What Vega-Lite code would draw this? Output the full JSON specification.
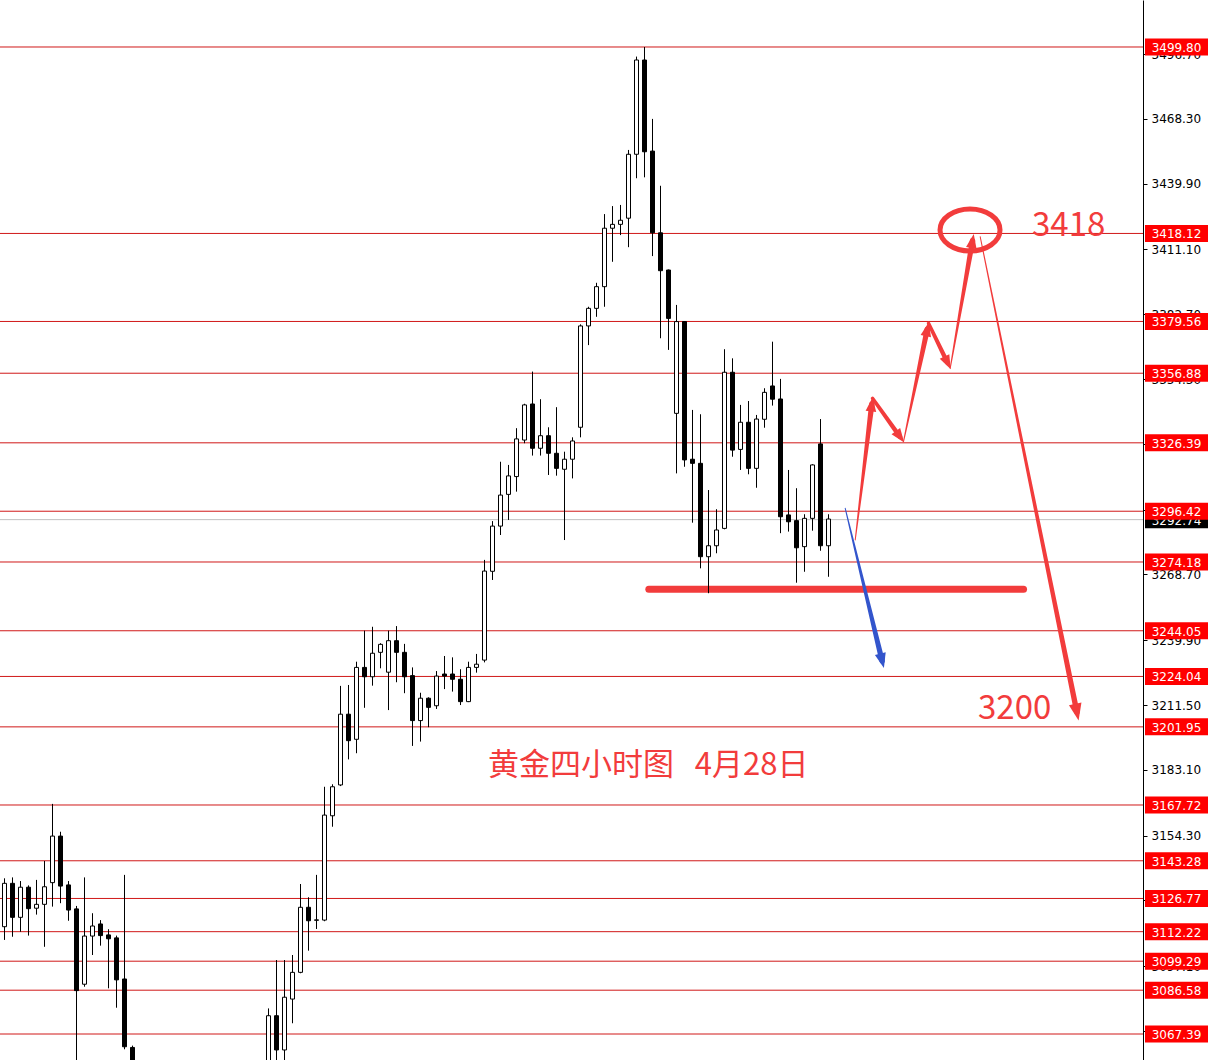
{
  "$schema": "https://vega.github.io/schema/vega-lite/v6.json",
  "width": 1143,
  "height": 1060,
  "autosize": {"type": "none"},
  "padding": {"left": 0, "top": 0, "right": 67, "bottom": 0},
  "background": "white",
  "config": {"view": {"stroke": null}, "scale": {"continuousPadding": 0}},
  "datasets": {
    "levels": [
      {"p": 3499.80}, {"p": 3418.12}, {"p": 3379.56}, {"p": 3356.88}, {"p": 3326.39},
      {"p": 3296.42}, {"p": 3274.18}, {"p": 3244.05}, {"p": 3224.04}, {"p": 3201.95},
      {"p": 3167.72}, {"p": 3143.28}, {"p": 3126.77}, {"p": 3112.22}, {"p": 3099.29},
      {"p": 3086.58}, {"p": 3067.39}
    ],
    "current": [{"p": 3292.74}],
    "candles": [
      {"i": 0, "o": 3114.4, "h": 3135.6, "l": 3108.6, "c": 3133.4},
      {"i": 1, "o": 3133.4, "h": 3136.0, "l": 3110.0, "c": 3118.5},
      {"i": 2, "o": 3118.5, "h": 3134.4, "l": 3112.2, "c": 3131.7},
      {"i": 3, "o": 3131.7, "h": 3132.5, "l": 3110.5, "c": 3122.3},
      {"i": 4, "o": 3122.5, "h": 3134.9, "l": 3119.7, "c": 3124.2},
      {"i": 5, "o": 3124.2, "h": 3143.2, "l": 3105.6, "c": 3131.9},
      {"i": 6, "o": 3133.7, "h": 3168.2, "l": 3123.2, "c": 3154.1},
      {"i": 7, "o": 3154.1, "h": 3156.0, "l": 3124.7, "c": 3132.2},
      {"i": 8, "o": 3132.7, "h": 3134.4, "l": 3117.0, "c": 3121.7},
      {"i": 9, "o": 3122.2, "h": 3123.5, "l": 3045.0, "c": 3086.4},
      {"i": 10, "o": 3089.2, "h": 3136.0, "l": 3088.1, "c": 3110.3},
      {"i": 11, "o": 3110.3, "h": 3120.3, "l": 3102.0, "c": 3114.7},
      {"i": 12, "o": 3115.6, "h": 3117.3, "l": 3106.1, "c": 3110.5},
      {"i": 13, "o": 3110.8, "h": 3113.3, "l": 3087.4, "c": 3109.1},
      {"i": 14, "o": 3109.5, "h": 3110.5, "l": 3078.9, "c": 3091.1},
      {"i": 15, "o": 3091.5, "h": 3137.1, "l": 3060.7, "c": 3061.8},
      {"i": 16, "o": 3061.5, "h": 3062.3, "l": 3030.0, "c": 3040.0},
      {"i": 33, "o": 3045.0, "h": 3078.6, "l": 3040.0, "c": 3075.4},
      {"i": 34, "o": 3075.4, "h": 3099.8, "l": 3048.0, "c": 3060.4},
      {"i": 35, "o": 3060.4, "h": 3099.8, "l": 3052.0, "c": 3083.5},
      {"i": 36, "o": 3082.7, "h": 3102.0, "l": 3072.1, "c": 3094.4},
      {"i": 37, "o": 3094.4, "h": 3133.1, "l": 3094.0, "c": 3122.9},
      {"i": 38, "o": 3122.9, "h": 3127.3, "l": 3103.9, "c": 3117.0},
      {"i": 39, "o": 3117.2, "h": 3137.1, "l": 3113.4, "c": 3117.4},
      {"i": 40, "o": 3117.3, "h": 3175.7, "l": 3116.8, "c": 3163.3},
      {"i": 41, "o": 3163.0, "h": 3176.8, "l": 3158.2, "c": 3175.7},
      {"i": 42, "o": 3176.5, "h": 3219.9, "l": 3176.0, "c": 3207.5},
      {"i": 43, "o": 3207.5, "h": 3220.3, "l": 3187.7, "c": 3195.9},
      {"i": 44, "o": 3196.5, "h": 3230.5, "l": 3190.4, "c": 3228.0},
      {"i": 45, "o": 3228.0, "h": 3244.1, "l": 3210.3, "c": 3223.9},
      {"i": 46, "o": 3223.9, "h": 3245.8, "l": 3220.0, "c": 3234.2},
      {"i": 47, "o": 3234.6, "h": 3238.6, "l": 3227.6, "c": 3238.1},
      {"i": 48, "o": 3225.9, "h": 3244.1, "l": 3209.3, "c": 3239.7},
      {"i": 49, "o": 3239.7, "h": 3246.1, "l": 3221.5, "c": 3234.6},
      {"i": 50, "o": 3234.6, "h": 3238.3, "l": 3216.7, "c": 3223.9},
      {"i": 51, "o": 3224.4, "h": 3228.0, "l": 3193.6, "c": 3204.7},
      {"i": 52, "o": 3204.7, "h": 3216.9, "l": 3195.5, "c": 3214.5},
      {"i": 53, "o": 3214.5, "h": 3214.9, "l": 3201.8, "c": 3210.5},
      {"i": 54, "o": 3211.2, "h": 3226.4, "l": 3209.8, "c": 3224.2},
      {"i": 55, "o": 3225.1, "h": 3233.0, "l": 3218.5, "c": 3224.2},
      {"i": 56, "o": 3225.1, "h": 3232.4, "l": 3217.4, "c": 3222.8},
      {"i": 57, "o": 3222.8, "h": 3227.2, "l": 3211.5, "c": 3213.0},
      {"i": 58, "o": 3213.0, "h": 3230.5, "l": 3212.8, "c": 3228.0},
      {"i": 59, "o": 3228.0, "h": 3233.9, "l": 3225.7, "c": 3229.4},
      {"i": 60, "o": 3231.2, "h": 3275.1, "l": 3230.2, "c": 3270.2},
      {"i": 61, "o": 3270.1, "h": 3292.1, "l": 3266.3, "c": 3289.9},
      {"i": 62, "o": 3289.9, "h": 3318.1, "l": 3286.0, "c": 3303.5},
      {"i": 63, "o": 3303.8, "h": 3316.7, "l": 3292.6, "c": 3311.9},
      {"i": 64, "o": 3311.6, "h": 3332.8, "l": 3305.0, "c": 3328.1},
      {"i": 65, "o": 3327.6, "h": 3343.5, "l": 3326.2, "c": 3343.0},
      {"i": 66, "o": 3343.4, "h": 3357.6, "l": 3320.8, "c": 3324.0},
      {"i": 67, "o": 3324.0, "h": 3345.5, "l": 3320.8, "c": 3329.5},
      {"i": 68, "o": 3329.5, "h": 3333.2, "l": 3312.3, "c": 3321.8},
      {"i": 69, "o": 3321.8, "h": 3342.0, "l": 3312.0, "c": 3315.2},
      {"i": 70, "o": 3314.8, "h": 3322.5, "l": 3283.8, "c": 3319.2},
      {"i": 71, "o": 3319.2, "h": 3328.8, "l": 3310.8, "c": 3327.2},
      {"i": 72, "o": 3333.2, "h": 3378.3, "l": 3328.8, "c": 3377.6},
      {"i": 73, "o": 3377.6, "h": 3386.0, "l": 3369.2, "c": 3385.3},
      {"i": 74, "o": 3385.3, "h": 3396.5, "l": 3381.6, "c": 3394.8},
      {"i": 75, "o": 3394.8, "h": 3426.6, "l": 3386.0, "c": 3420.4},
      {"i": 76, "o": 3420.4, "h": 3430.1, "l": 3405.7, "c": 3422.1},
      {"i": 77, "o": 3422.1, "h": 3430.6, "l": 3417.4, "c": 3423.9},
      {"i": 78, "o": 3424.8, "h": 3454.7, "l": 3412.1, "c": 3452.8},
      {"i": 79, "o": 3452.8, "h": 3495.6, "l": 3442.3, "c": 3494.1},
      {"i": 80, "o": 3494.1, "h": 3499.8, "l": 3442.7, "c": 3453.9},
      {"i": 81, "o": 3454.2, "h": 3468.3, "l": 3408.2, "c": 3418.4},
      {"i": 82, "o": 3418.4, "h": 3439.0, "l": 3372.2, "c": 3401.8},
      {"i": 83, "o": 3402.1, "h": 3402.3, "l": 3367.1, "c": 3380.9},
      {"i": 84, "o": 3339.3, "h": 3386.8, "l": 3313.0, "c": 3379.5},
      {"i": 85, "o": 3379.5, "h": 3379.7, "l": 3315.9, "c": 3318.9},
      {"i": 86, "o": 3319.2, "h": 3340.8, "l": 3291.4, "c": 3317.4},
      {"i": 87, "o": 3317.4, "h": 3338.9, "l": 3271.4, "c": 3276.5},
      {"i": 88, "o": 3276.5, "h": 3305.7, "l": 3260.5, "c": 3281.3},
      {"i": 89, "o": 3281.3, "h": 3297.3, "l": 3278.0, "c": 3288.2},
      {"i": 90, "o": 3288.9, "h": 3367.4, "l": 3288.5, "c": 3357.3},
      {"i": 91, "o": 3357.3, "h": 3363.4, "l": 3320.3, "c": 3323.2},
      {"i": 92, "o": 3323.5, "h": 3343.0, "l": 3314.5, "c": 3335.4},
      {"i": 93, "o": 3335.4, "h": 3344.7, "l": 3312.6, "c": 3315.2},
      {"i": 94, "o": 3315.2, "h": 3338.6, "l": 3306.7, "c": 3336.8},
      {"i": 95, "o": 3336.7, "h": 3350.3, "l": 3333.0, "c": 3348.5},
      {"i": 96, "o": 3351.3, "h": 3370.7, "l": 3342.7, "c": 3345.5},
      {"i": 97, "o": 3345.6, "h": 3354.4, "l": 3286.8, "c": 3294.0},
      {"i": 98, "o": 3294.8, "h": 3314.5, "l": 3287.5, "c": 3291.8},
      {"i": 99, "o": 3292.3, "h": 3306.5, "l": 3265.1, "c": 3280.4},
      {"i": 100, "o": 3280.9, "h": 3295.1, "l": 3269.9, "c": 3293.3},
      {"i": 101, "o": 3293.3, "h": 3317.0, "l": 3287.9, "c": 3316.7},
      {"i": 102, "o": 3325.9, "h": 3336.8, "l": 3279.1, "c": 3281.3},
      {"i": 103, "o": 3281.3, "h": 3295.1, "l": 3267.7, "c": 3293.0}
    ],
    "support": [{"i": 80.54, "p": 3262.2}, {"i": 127.38, "p": 3262.2}],
    "redPath": [
      {"seg": "A", "t": 0, "i": 106.34, "p": 3283.83},
      {"seg": "A", "t": 1, "i": 108.41, "p": 3343.26},
      {"seg": "B", "t": 0.55, "i": 108.5, "p": 3345.89},
      {"seg": "B", "t": 0.8, "i": 111.94, "p": 3329.02},
      {"seg": "C", "t": 0, "i": 112.375, "p": 3326.88},
      {"seg": "C", "t": 1, "i": 115.35, "p": 3376.17},
      {"seg": "D", "t": 0.55, "i": 115.5, "p": 3378.75},
      {"seg": "D", "t": 0.8, "i": 117.89, "p": 3361.40},
      {"seg": "E", "t": 0, "i": 118.21, "p": 3359.04},
      {"seg": "E", "t": 1, "i": 121.0, "p": 3414.85},
      {"seg": "F", "t": 0, "i": 121.96, "p": 3416.69},
      {"seg": "F", "t": 1, "i": 134.05, "p": 3208.37}
    ],
    "bluePath": [
      {"seg": "G", "t": 0, "i": 105.09, "p": 3297.7},
      {"seg": "G", "t": 1, "i": 109.7, "p": 3230.85}
    ],
    "redHeads": [
      {"i": 108.41, "p": 3343.26, "dir": 7},
      {"i": 111.94, "p": 3329.02, "dir": 144},
      {"i": 115.35, "p": 3376.17, "dir": 12},
      {"i": 117.89, "p": 3361.40, "dir": 154},
      {"i": 121.0, "p": 3414.85, "dir": 10}
    ],
    "bigHead": [{"i": 134.05, "p": 3208.37, "dir": 168.5}],
    "blueHeads": [{"i": 109.7, "p": 3230.85, "dir": 166}],
    "ring": [{"i": 120.69, "p": 3419.63}],
    "title": [{"i": 60.44, "p": 3184.8, "label": "黄金四小时图\u00a0\u00a0\u00a04月28日"}],
    "targets": [
      {"i": 128.44, "p": 3421.38, "label": "3418"},
      {"i": 121.69, "p": 3209.77, "label": "3200"}
    ]
  },
  "layer": [
    {
      "data": {"name": "current"},
      "mark": {"type": "rule", "color": "#c0c0c0", "strokeWidth": 1},
      "encoding": {
        "y": {"field": "p", "type": "quantitative",
          "scale": {"domain": [3056.0, 3520.39], "nice": false, "zero": false, "padding": 0},
          "axis": {"orient": "right", "title": null, "grid": false, "values": [3496.70, 3468.30, 3439.90, 3411.10, 3382.70, 3354.30, 3325.90, 3297.10, 3268.70, 3239.90, 3211.50, 3183.10, 3154.30, 3125.90, 3097.10, 3068.70], "format": ".2f", "labelFont": "DejaVu Sans", "labelFontSize": 12, "labelColor": "#000000", "tickColor": "#000000", "domainColor": "#000000", "tickSize": 4, "labelPadding": 4, "labelOverlap": false, "labelBound": false, "domainWidth": 1, "tickWidth": 1}
        }
      }
    },
    {
      "data": {"name": "levels"},
      "mark": {"type": "rule", "color": "#d01818", "strokeWidth": 1},
      "encoding": {
        "y": {"field": "p", "type": "quantitative",
          "scale": {"domain": [3056.0, 3520.39], "nice": false, "zero": false, "padding": 0},
          "axis": {"orient": "right", "title": null, "grid": false, "values": [3496.70, 3468.30, 3439.90, 3411.10, 3382.70, 3354.30, 3325.90, 3297.10, 3268.70, 3239.90, 3211.50, 3183.10, 3154.30, 3125.90, 3097.10, 3068.70], "format": ".2f", "labelFont": "DejaVu Sans", "labelFontSize": 12, "labelColor": "#000000", "tickColor": "#000000", "domainColor": "#000000", "tickSize": 4, "labelPadding": 4, "labelOverlap": false, "labelBound": false, "domainWidth": 1, "tickWidth": 1}
        }
      }
    },
    {
      "data": {"name": "support"},
      "mark": {"type": "line", "color": "#f23c3c", "strokeWidth": 7, "strokeCap": "round"},
      "encoding": {
        "x": {"field": "i", "type": "quantitative", "scale": {"domain": [-0.5625, 142.3125], "nice": false, "zero": false, "padding": 0}, "axis": null},
        "y": {"field": "p", "type": "quantitative", "scale": {"domain": [3056.0, 3520.39], "nice": false, "zero": false, "padding": 0},
          "axis": {"orient": "right", "title": null, "grid": false, "values": [3496.70, 3468.30, 3439.90, 3411.10, 3382.70, 3354.30, 3325.90, 3297.10, 3268.70, 3239.90, 3211.50, 3183.10, 3154.30, 3125.90, 3097.10, 3068.70], "format": ".2f", "labelFont": "DejaVu Sans", "labelFontSize": 12, "labelColor": "#000000", "tickColor": "#000000", "domainColor": "#000000", "tickSize": 4, "labelPadding": 4, "labelOverlap": false, "labelBound": false, "domainWidth": 1, "tickWidth": 1}}
      }
    },
    {
      "data": {"name": "candles"},
      "mark": {"type": "rule", "color": "#000000", "strokeWidth": 1, "clip": true},
      "encoding": {
        "x": {"field": "i", "type": "quantitative", "scale": {"domain": [-0.5625, 142.3125], "nice": false, "zero": false, "padding": 0}, "axis": null},
        "y": {"field": "l", "type": "quantitative", "scale": {"domain": [3056.0, 3520.39], "nice": false, "zero": false, "padding": 0},
          "axis": {"orient": "right", "title": null, "grid": false, "values": [3496.70, 3468.30, 3439.90, 3411.10, 3382.70, 3354.30, 3325.90, 3297.10, 3268.70, 3239.90, 3211.50, 3183.10, 3154.30, 3125.90, 3097.10, 3068.70], "format": ".2f", "labelFont": "DejaVu Sans", "labelFontSize": 12, "labelColor": "#000000", "tickColor": "#000000", "domainColor": "#000000", "tickSize": 4, "labelPadding": 4, "labelOverlap": false, "labelBound": false, "domainWidth": 1, "tickWidth": 1}},
        "y2": {"field": "h"}
      }
    },
    {
      "data": {"name": "candles"},
      "mark": {"type": "bar", "width": 4, "stroke": "#000000", "strokeWidth": 1, "clip": true},
      "encoding": {
        "x": {"field": "i", "type": "quantitative", "scale": {"domain": [-0.5625, 142.3125], "nice": false, "zero": false, "padding": 0}, "axis": null},
        "y": {"field": "o", "type": "quantitative", "scale": {"domain": [3056.0, 3520.39], "nice": false, "zero": false, "padding": 0},
          "axis": {"orient": "right", "title": null, "grid": false, "values": [3496.70, 3468.30, 3439.90, 3411.10, 3382.70, 3354.30, 3325.90, 3297.10, 3268.70, 3239.90, 3211.50, 3183.10, 3154.30, 3125.90, 3097.10, 3068.70], "format": ".2f", "labelFont": "DejaVu Sans", "labelFontSize": 12, "labelColor": "#000000", "tickColor": "#000000", "domainColor": "#000000", "tickSize": 4, "labelPadding": 4, "labelOverlap": false, "labelBound": false, "domainWidth": 1, "tickWidth": 1}},
        "y2": {"field": "c"},
        "fill": {"condition": {"test": "datum.c >= datum.o", "value": "#ffffff"}, "value": "#000000"}
      }
    },
    {
      "data": {"name": "bluePath"},
      "mark": {"type": "trail", "color": "#3355cc"},
      "encoding": {
        "x": {"field": "i", "type": "quantitative", "scale": {"domain": [-0.5625, 142.3125], "nice": false, "zero": false, "padding": 0}, "axis": null},
        "y": {"field": "p", "type": "quantitative", "scale": {"domain": [3056.0, 3520.39], "nice": false, "zero": false, "padding": 0},
          "axis": {"orient": "right", "title": null, "grid": false, "values": [3496.70, 3468.30, 3439.90, 3411.10, 3382.70, 3354.30, 3325.90, 3297.10, 3268.70, 3239.90, 3211.50, 3183.10, 3154.30, 3125.90, 3097.10, 3068.70], "format": ".2f", "labelFont": "DejaVu Sans", "labelFontSize": 12, "labelColor": "#000000", "tickColor": "#000000", "domainColor": "#000000", "tickSize": 4, "labelPadding": 4, "labelOverlap": false, "labelBound": false, "domainWidth": 1, "tickWidth": 1}},
        "detail": {"field": "seg"},
        "order": {"field": "t"},
        "size": {"field": "t", "type": "quantitative", "scale": {"domain": [0, 1], "range": [1, 5.5]}, "legend": null}
      }
    },
    {
      "data": {"name": "redPath"},
      "mark": {"type": "trail", "color": "#f23c3c"},
      "encoding": {
        "x": {"field": "i", "type": "quantitative", "scale": {"domain": [-0.5625, 142.3125], "nice": false, "zero": false, "padding": 0}, "axis": null},
        "y": {"field": "p", "type": "quantitative", "scale": {"domain": [3056.0, 3520.39], "nice": false, "zero": false, "padding": 0},
          "axis": {"orient": "right", "title": null, "grid": false, "values": [3496.70, 3468.30, 3439.90, 3411.10, 3382.70, 3354.30, 3325.90, 3297.10, 3268.70, 3239.90, 3211.50, 3183.10, 3154.30, 3125.90, 3097.10, 3068.70], "format": ".2f", "labelFont": "DejaVu Sans", "labelFontSize": 12, "labelColor": "#000000", "tickColor": "#000000", "domainColor": "#000000", "tickSize": 4, "labelPadding": 4, "labelOverlap": false, "labelBound": false, "domainWidth": 1, "tickWidth": 1}},
        "detail": {"field": "seg"},
        "order": {"field": "t"},
        "size": {"field": "t", "type": "quantitative", "scale": {"domain": [0, 1], "range": [1, 5.5]}, "legend": null}
      }
    },
    {
      "data": {"name": "redHeads"},
      "mark": {"type": "point", "shape": "M0,-1L0.75,1L-0.75,1Z", "filled": true, "color": "#f23c3c", "opacity": 1, "size": 200},
      "encoding": {
        "x": {"field": "i", "type": "quantitative", "scale": {"domain": [-0.5625, 142.3125], "nice": false, "zero": false, "padding": 0}, "axis": null},
        "y": {"field": "p", "type": "quantitative", "scale": {"domain": [3056.0, 3520.39], "nice": false, "zero": false, "padding": 0},
          "axis": {"orient": "right", "title": null, "grid": false, "values": [3496.70, 3468.30, 3439.90, 3411.10, 3382.70, 3354.30, 3325.90, 3297.10, 3268.70, 3239.90, 3211.50, 3183.10, 3154.30, 3125.90, 3097.10, 3068.70], "format": ".2f", "labelFont": "DejaVu Sans", "labelFontSize": 12, "labelColor": "#000000", "tickColor": "#000000", "domainColor": "#000000", "tickSize": 4, "labelPadding": 4, "labelOverlap": false, "labelBound": false, "domainWidth": 1, "tickWidth": 1}},
        "angle": {"field": "dir", "type": "quantitative", "scale": {"domain": [0, 360], "range": [0, 360]}, "legend": null}
      }
    },
    {
      "data": {"name": "bigHead"},
      "mark": {"type": "point", "shape": "M0,-1L0.75,1L-0.75,1Z", "filled": true, "color": "#f23c3c", "opacity": 1, "size": 289},
      "encoding": {
        "x": {"field": "i", "type": "quantitative", "scale": {"domain": [-0.5625, 142.3125], "nice": false, "zero": false, "padding": 0}, "axis": null},
        "y": {"field": "p", "type": "quantitative", "scale": {"domain": [3056.0, 3520.39], "nice": false, "zero": false, "padding": 0},
          "axis": {"orient": "right", "title": null, "grid": false, "values": [3496.70, 3468.30, 3439.90, 3411.10, 3382.70, 3354.30, 3325.90, 3297.10, 3268.70, 3239.90, 3211.50, 3183.10, 3154.30, 3125.90, 3097.10, 3068.70], "format": ".2f", "labelFont": "DejaVu Sans", "labelFontSize": 12, "labelColor": "#000000", "tickColor": "#000000", "domainColor": "#000000", "tickSize": 4, "labelPadding": 4, "labelOverlap": false, "labelBound": false, "domainWidth": 1, "tickWidth": 1}},
        "angle": {"field": "dir", "type": "quantitative", "scale": {"domain": [0, 360], "range": [0, 360]}, "legend": null}
      }
    },
    {
      "data": {"name": "blueHeads"},
      "mark": {"type": "point", "shape": "M0,-1L0.75,1L-0.75,1Z", "filled": true, "color": "#3355cc", "opacity": 1, "size": 220},
      "encoding": {
        "x": {"field": "i", "type": "quantitative", "scale": {"domain": [-0.5625, 142.3125], "nice": false, "zero": false, "padding": 0}, "axis": null},
        "y": {"field": "p", "type": "quantitative", "scale": {"domain": [3056.0, 3520.39], "nice": false, "zero": false, "padding": 0},
          "axis": {"orient": "right", "title": null, "grid": false, "values": [3496.70, 3468.30, 3439.90, 3411.10, 3382.70, 3354.30, 3325.90, 3297.10, 3268.70, 3239.90, 3211.50, 3183.10, 3154.30, 3125.90, 3097.10, 3068.70], "format": ".2f", "labelFont": "DejaVu Sans", "labelFontSize": 12, "labelColor": "#000000", "tickColor": "#000000", "domainColor": "#000000", "tickSize": 4, "labelPadding": 4, "labelOverlap": false, "labelBound": false, "domainWidth": 1, "tickWidth": 1}},
        "angle": {"field": "dir", "type": "quantitative", "scale": {"domain": [0, 360], "range": [0, 360]}, "legend": null}
      }
    },
    {
      "data": {"name": "ring"},
      "mark": {"type": "point", "shape": "M -1 0 A 1 0.7 0 1 1 1 0 A 1 0.7 0 1 1 -1 0 Z", "filled": false, "stroke": "#f23c3c", "strokeWidth": 5, "opacity": 1, "size": 3600},
      "encoding": {
        "x": {"field": "i", "type": "quantitative", "scale": {"domain": [-0.5625, 142.3125], "nice": false, "zero": false, "padding": 0}, "axis": null},
        "y": {"field": "p", "type": "quantitative", "scale": {"domain": [3056.0, 3520.39], "nice": false, "zero": false, "padding": 0},
          "axis": {"orient": "right", "title": null, "grid": false, "values": [3496.70, 3468.30, 3439.90, 3411.10, 3382.70, 3354.30, 3325.90, 3297.10, 3268.70, 3239.90, 3211.50, 3183.10, 3154.30, 3125.90, 3097.10, 3068.70], "format": ".2f", "labelFont": "DejaVu Sans", "labelFontSize": 12, "labelColor": "#000000", "tickColor": "#000000", "domainColor": "#000000", "tickSize": 4, "labelPadding": 4, "labelOverlap": false, "labelBound": false, "domainWidth": 1, "tickWidth": 1}}
      }
    },
    {
      "data": {"name": "title"},
      "mark": {"type": "text", "align": "left", "baseline": "middle", "font": "Noto Sans CJK SC", "fontSize": 31, "color": "#f23c3c"},
      "encoding": {
        "x": {"field": "i", "type": "quantitative", "scale": {"domain": [-0.5625, 142.3125], "nice": false, "zero": false, "padding": 0}, "axis": null},
        "y": {"field": "p", "type": "quantitative", "scale": {"domain": [3056.0, 3520.39], "nice": false, "zero": false, "padding": 0},
          "axis": {"orient": "right", "title": null, "grid": false, "values": [3496.70, 3468.30, 3439.90, 3411.10, 3382.70, 3354.30, 3325.90, 3297.10, 3268.70, 3239.90, 3211.50, 3183.10, 3154.30, 3125.90, 3097.10, 3068.70], "format": ".2f", "labelFont": "DejaVu Sans", "labelFontSize": 12, "labelColor": "#000000", "tickColor": "#000000", "domainColor": "#000000", "tickSize": 4, "labelPadding": 4, "labelOverlap": false, "labelBound": false, "domainWidth": 1, "tickWidth": 1}},
        "text": {"field": "label"}
      }
    },
    {
      "data": {"name": "targets"},
      "mark": {"type": "text", "align": "left", "baseline": "middle", "font": "Noto Sans CJK SC", "fontSize": 33, "color": "#f23c3c"},
      "encoding": {
        "x": {"field": "i", "type": "quantitative", "scale": {"domain": [-0.5625, 142.3125], "nice": false, "zero": false, "padding": 0}, "axis": null},
        "y": {"field": "p", "type": "quantitative", "scale": {"domain": [3056.0, 3520.39], "nice": false, "zero": false, "padding": 0},
          "axis": {"orient": "right", "title": null, "grid": false, "values": [3496.70, 3468.30, 3439.90, 3411.10, 3382.70, 3354.30, 3325.90, 3297.10, 3268.70, 3239.90, 3211.50, 3183.10, 3154.30, 3125.90, 3097.10, 3068.70], "format": ".2f", "labelFont": "DejaVu Sans", "labelFontSize": 12, "labelColor": "#000000", "tickColor": "#000000", "domainColor": "#000000", "tickSize": 4, "labelPadding": 4, "labelOverlap": false, "labelBound": false, "domainWidth": 1, "tickWidth": 1}},
        "text": {"field": "label"}
      }
    },
    {
      "data": {"name": "current"},
      "mark": {"type": "tick", "orient": "horizontal", "color": "#000000", "size": 63, "thickness": 17, "opacity": 1},
      "encoding": {
        "x": {"datum": 146.5, "type": "quantitative", "scale": {"domain": [-0.5625, 142.3125], "nice": false, "zero": false, "padding": 0}, "axis": null},
        "y": {"field": "p", "type": "quantitative", "scale": {"domain": [3056.0, 3520.39], "nice": false, "zero": false, "padding": 0},
          "axis": {"orient": "right", "title": null, "grid": false, "values": [3496.70, 3468.30, 3439.90, 3411.10, 3382.70, 3354.30, 3325.90, 3297.10, 3268.70, 3239.90, 3211.50, 3183.10, 3154.30, 3125.90, 3097.10, 3068.70], "format": ".2f", "labelFont": "DejaVu Sans", "labelFontSize": 12, "labelColor": "#000000", "tickColor": "#000000", "domainColor": "#000000", "tickSize": 4, "labelPadding": 4, "labelOverlap": false, "labelBound": false, "domainWidth": 1, "tickWidth": 1}}
      }
    },
    {
      "data": {"name": "current"},
      "mark": {"type": "text", "align": "center", "baseline": "middle", "font": "DejaVu Sans", "fontSize": 12, "color": "#ffffff", "dy": 1},
      "encoding": {
        "x": {"datum": 146.5, "type": "quantitative", "scale": {"domain": [-0.5625, 142.3125], "nice": false, "zero": false, "padding": 0}, "axis": null},
        "y": {"field": "p", "type": "quantitative", "scale": {"domain": [3056.0, 3520.39], "nice": false, "zero": false, "padding": 0},
          "axis": {"orient": "right", "title": null, "grid": false, "values": [3496.70, 3468.30, 3439.90, 3411.10, 3382.70, 3354.30, 3325.90, 3297.10, 3268.70, 3239.90, 3211.50, 3183.10, 3154.30, 3125.90, 3097.10, 3068.70], "format": ".2f", "labelFont": "DejaVu Sans", "labelFontSize": 12, "labelColor": "#000000", "tickColor": "#000000", "domainColor": "#000000", "tickSize": 4, "labelPadding": 4, "labelOverlap": false, "labelBound": false, "domainWidth": 1, "tickWidth": 1}},
        "text": {"field": "p", "type": "quantitative", "format": ".2f"}
      }
    },
    {
      "data": {"name": "levels"},
      "mark": {"type": "tick", "orient": "horizontal", "color": "#ff0000", "size": 63, "thickness": 17, "opacity": 1},
      "encoding": {
        "x": {"datum": 146.5, "type": "quantitative", "scale": {"domain": [-0.5625, 142.3125], "nice": false, "zero": false, "padding": 0}, "axis": null},
        "y": {"field": "p", "type": "quantitative", "scale": {"domain": [3056.0, 3520.39], "nice": false, "zero": false, "padding": 0},
          "axis": {"orient": "right", "title": null, "grid": false, "values": [3496.70, 3468.30, 3439.90, 3411.10, 3382.70, 3354.30, 3325.90, 3297.10, 3268.70, 3239.90, 3211.50, 3183.10, 3154.30, 3125.90, 3097.10, 3068.70], "format": ".2f", "labelFont": "DejaVu Sans", "labelFontSize": 12, "labelColor": "#000000", "tickColor": "#000000", "domainColor": "#000000", "tickSize": 4, "labelPadding": 4, "labelOverlap": false, "labelBound": false, "domainWidth": 1, "tickWidth": 1}}
      }
    },
    {
      "data": {"name": "levels"},
      "mark": {"type": "text", "align": "center", "baseline": "middle", "font": "DejaVu Sans", "fontSize": 12, "color": "#ffffff", "dy": 1},
      "encoding": {
        "x": {"datum": 146.5, "type": "quantitative", "scale": {"domain": [-0.5625, 142.3125], "nice": false, "zero": false, "padding": 0}, "axis": null},
        "y": {"field": "p", "type": "quantitative", "scale": {"domain": [3056.0, 3520.39], "nice": false, "zero": false, "padding": 0},
          "axis": {"orient": "right", "title": null, "grid": false, "values": [3496.70, 3468.30, 3439.90, 3411.10, 3382.70, 3354.30, 3325.90, 3297.10, 3268.70, 3239.90, 3211.50, 3183.10, 3154.30, 3125.90, 3097.10, 3068.70], "format": ".2f", "labelFont": "DejaVu Sans", "labelFontSize": 12, "labelColor": "#000000", "tickColor": "#000000", "domainColor": "#000000", "tickSize": 4, "labelPadding": 4, "labelOverlap": false, "labelBound": false, "domainWidth": 1, "tickWidth": 1}},
        "text": {"field": "p", "type": "quantitative", "format": ".2f"}
      }
    }
  ]
}
